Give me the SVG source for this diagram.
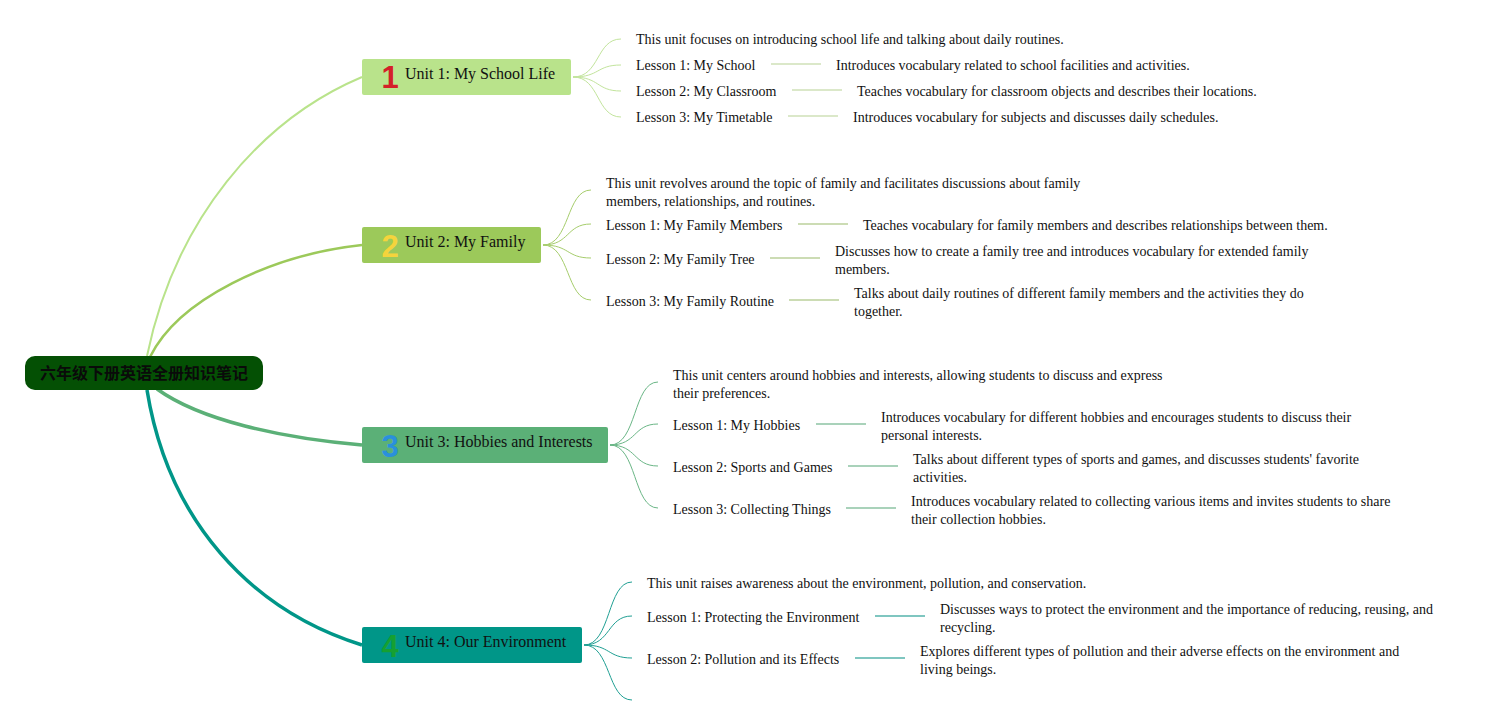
<svg xmlns="http://www.w3.org/2000/svg" width="1500" height="725" viewBox="0 0 1500 725">
<style>
.t{font-family:"Liberation Serif","Times New Roman",serif;font-size:14px;fill:#111}
.u{font-family:"Liberation Serif","Times New Roman",serif;font-size:16px;fill:#111}
.n{font-family:"Liberation Sans",Arial,sans-serif;font-size:31px;font-weight:bold;text-anchor:middle}
.root{font-family:"Noto Sans CJK SC","Liberation Sans",sans-serif;font-size:16px;font-weight:bold;fill:#0a0a0a;text-anchor:middle}
.c1{stroke:#c2e49c;fill:none;stroke-width:1}
.c2{stroke:#a6cd6c;fill:none;stroke-width:1}
.c3{stroke:#6ab686;fill:none;stroke-width:1}
.c4{stroke:#1f9f93;fill:none;stroke-width:1}
.l1{stroke:#dbe8c9;stroke-width:2}
.l2{stroke:#ccdcb4;stroke-width:2}
.l3{stroke:#a9d2ba;stroke-width:2}
.l4{stroke:#7fc6c0;stroke-width:2}
</style>
<rect width="1500" height="725" fill="#ffffff"/>
<g id="connectors">
<path d="M147,356 C175,220 260,120 362,77" stroke="#b9e38b" stroke-width="2" fill="none"/>
<path d="M150,357 C178,300 270,255 362,245" stroke="#9cc95a" stroke-width="2.5" fill="none"/>
<path d="M157,389 C200,420 280,438 362,445" stroke="#5bb077" stroke-width="3.5" fill="none"/>
<path d="M147,390 C168,520 250,610 362,645" stroke="#009688" stroke-width="3.5" fill="none"/>
<path class="c1" d="M573,77 C600,77 596,39 621,39"/>
<path class="c1" d="M573,77 C600,77 596,65 621,65"/>
<path class="c1" d="M573,77 C600,77 596,91 621,91"/>
<path class="c1" d="M573,77 C600,77 596,117 621,117"/>
<path class="c2" d="M543,245 C570,245 566,190 591,190"/>
<path class="c2" d="M543,245 C570,245 566,224 591,224"/>
<path class="c2" d="M543,245 C570,245 566,258 591,258"/>
<path class="c2" d="M543,245 C570,245 566,300 591,300"/>
<path class="c3" d="M610,445 C637,445 633,382 658,382"/>
<path class="c3" d="M610,445 C637,445 633,424 658,424"/>
<path class="c3" d="M610,445 C637,445 633,466 658,466"/>
<path class="c3" d="M610,445 C637,445 633,508 658,508"/>
<path class="c4" d="M584,645 C611,645 607,582 632,582"/>
<path class="c4" d="M584,645 C611,645 607,616 632,616"/>
<path class="c4" d="M584,645 C611,645 607,658 632,658"/>
<path class="c4" d="M584,645 C611,645 607,700 632,700"/>
<line class="l1" x1="771" y1="64" x2="821" y2="64"/>
<line class="l1" x1="792" y1="90" x2="842" y2="90"/>
<line class="l1" x1="788" y1="116" x2="838" y2="116"/>
<line class="l2" x1="798" y1="224" x2="848" y2="224"/>
<line class="l2" x1="770" y1="258" x2="820" y2="258"/>
<line class="l2" x1="789" y1="300" x2="839" y2="300"/>
<line class="l3" x1="816" y1="424" x2="866" y2="424"/>
<line class="l3" x1="848" y1="466" x2="898" y2="466"/>
<line class="l3" x1="846" y1="508" x2="896" y2="508"/>
<line class="l4" x1="875" y1="616" x2="925" y2="616"/>
<line class="l4" x1="855" y1="658" x2="905" y2="658"/>
</g>
<g id="root">
<rect x="25" y="356" width="238" height="34" rx="10" fill="#045004"/>
<text class="root" x="144" y="379">六年级下册英语全册知识笔记</text>
</g>
<g id="unit1">
<rect x="362" y="59" width="209" height="36" rx="2" fill="#b9e38b"/>
<text class="n" x="390" y="88" fill="#d42028">1</text>
<text class="u" x="405" y="79">Unit 1: My School Life</text>
</g>
<g id="unit2">
<rect x="362" y="227" width="179" height="36" rx="2" fill="#9cc95a"/>
<text class="n" x="390" y="257" fill="#f4d43c">2</text>
<text class="u" x="405" y="247">Unit 2: My Family</text>
</g>
<g id="unit3">
<rect x="362" y="427" width="246" height="36" rx="2" fill="#5bb077"/>
<text class="n" x="390" y="457" fill="#2a90dc">3</text>
<text class="u" x="405" y="447">Unit 3: Hobbies and Interests</text>
</g>
<g id="unit4">
<rect x="362" y="627" width="220" height="36" rx="2" fill="#009688"/>
<text class="n" x="390" y="657" fill="#16a032">4</text>
<text class="u" x="405" y="647">Unit 4: Our Environment</text>
</g>
<g id="unit1-details">
<text class="t" x="636" y="44">This unit focuses on introducing school life and talking about daily routines.</text>
<text class="t" x="636" y="70">Lesson 1: My School</text>
<text class="t" x="836" y="70">Introduces vocabulary related to school facilities and activities.</text>
<text class="t" x="636" y="96">Lesson 2: My Classroom</text>
<text class="t" x="857" y="96">Teaches vocabulary for classroom objects and describes their locations.</text>
<text class="t" x="636" y="122">Lesson 3: My Timetable</text>
<text class="t" x="853" y="122">Introduces vocabulary for subjects and discusses daily schedules.</text>
</g>
<g id="unit2-details">
<text class="t" x="606" y="188">This unit revolves around the topic of family and facilitates discussions about family</text>
<text class="t" x="606" y="206">members, relationships, and routines.</text>
<text class="t" x="606" y="230">Lesson 1: My Family Members</text>
<text class="t" x="863" y="230">Teaches vocabulary for family members and describes relationships between them.</text>
<text class="t" x="606" y="264">Lesson 2: My Family Tree</text>
<text class="t" x="835" y="256">Discusses how to create a family tree and introduces vocabulary for extended family</text>
<text class="t" x="835" y="274">members.</text>
<text class="t" x="606" y="306">Lesson 3: My Family Routine</text>
<text class="t" x="854" y="298">Talks about daily routines of different family members and the activities they do</text>
<text class="t" x="854" y="316">together.</text>
</g>
<g id="unit3-details">
<text class="t" x="673" y="380">This unit centers around hobbies and interests, allowing students to discuss and express</text>
<text class="t" x="673" y="398">their preferences.</text>
<text class="t" x="673" y="430">Lesson 1: My Hobbies</text>
<text class="t" x="881" y="422">Introduces vocabulary for different hobbies and encourages students to discuss their</text>
<text class="t" x="881" y="440">personal interests.</text>
<text class="t" x="673" y="472">Lesson 2: Sports and Games</text>
<text class="t" x="913" y="464">Talks about different types of sports and games, and discusses students' favorite</text>
<text class="t" x="913" y="482">activities.</text>
<text class="t" x="673" y="514">Lesson 3: Collecting Things</text>
<text class="t" x="911" y="506">Introduces vocabulary related to collecting various items and invites students to share</text>
<text class="t" x="911" y="524">their collection hobbies.</text>
</g>
<g id="unit4-details">
<text class="t" x="647" y="588">This unit raises awareness about the environment, pollution, and conservation.</text>
<text class="t" x="647" y="622">Lesson 1: Protecting the Environment</text>
<text class="t" x="940" y="614">Discusses ways to protect the environment and the importance of reducing, reusing, and</text>
<text class="t" x="940" y="632">recycling.</text>
<text class="t" x="647" y="664">Lesson 2: Pollution and its Effects</text>
<text class="t" x="920" y="656">Explores different types of pollution and their adverse effects on the environment and</text>
<text class="t" x="920" y="674">living beings.</text>
</g>
</svg>
